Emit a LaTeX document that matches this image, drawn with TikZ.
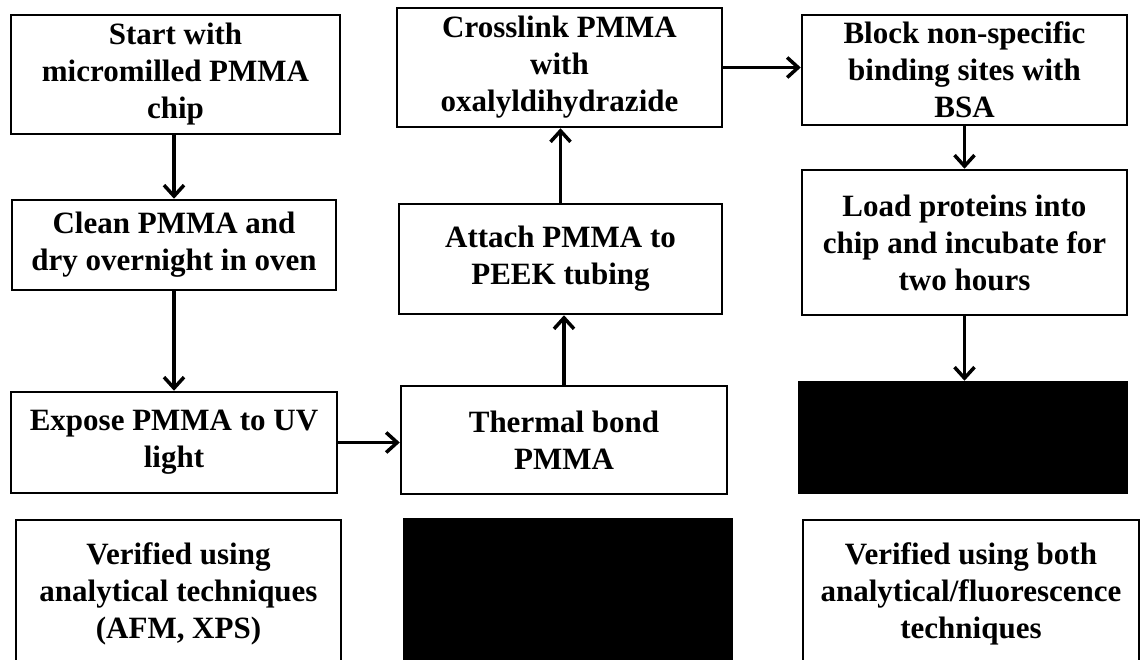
\documentclass[tikz,border=0pt]{standalone}
\usepackage{fontspec}
\setmainfont{Liberation Serif}
\usetikzlibrary{arrows.meta}
\begin{document}
\begin{tikzpicture}[x=1pt,y=-1pt,
  box/.style={draw=black,line width=2.5pt,align=center,inner sep=0pt,
    font=\fontsize{31}{37}\selectfont\bfseries},
  blackbox/.style={draw=black,fill=black,line width=2.5pt,inner sep=0pt},
  arr/.style={line width=3.5pt,-{Straight Barb[length=11pt,width=20pt,line width=3.5pt]}}]
\useasboundingbox (0,0) rectangle (1142,660);
\clip (0,0) rectangle (1142,660);
\node[box,minimum width=329pt,minimum height=119pt] (A) at (175.5,74.5) {Start with\\micromilled PMMA\\chip};
\node[box,minimum width=324pt,minimum height=90pt] (B) at (174,245) {Clean PMMA and\\dry overnight in oven};
\node[box,minimum width=326pt,minimum height=101pt] (C) at (174,442.5) {Expose PMMA to UV\\light};
\node[box,minimum width=326pt,minimum height=108pt] (D) at (564,440) {Thermal bond\\PMMA};
\node[box,minimum width=323pt,minimum height=110pt] (E) at (560.5,259) {Attach PMMA to\\PEEK tubing};
\node[box,minimum width=325pt,minimum height=119pt] (F) at (559.5,67.5) {Crosslink PMMA\\with\\oxalyldihydrazide};
\node[box,minimum width=325pt,minimum height=110pt] (G) at (964.5,70) {Block non-specific\\binding sites with\\BSA};
\node[box,minimum width=325pt,minimum height=145pt] (H) at (964.5,242.5) {Load proteins into\\chip and incubate for\\two hours};
\node[blackbox,minimum width=328pt,minimum height=111pt] (I) at (963,437.5) {};
\node[box,minimum width=325pt,minimum height=148pt] (J) at (178.5,594) {Verified using\\analytical techniques\\(AFM, XPS)};
\node[blackbox,minimum width=328pt,minimum height=149pt] (K) at (568,593.5) {};
\node[box,minimum width=336pt,minimum height=148pt] (L) at (971,594) {Verified using both\\analytical/fluorescence\\techniques};
\draw[arr] (A.south -| B.north) -- (B.north);
\draw[arr] (B.south) -- (B.south |- C.north);
\draw[arr] (C.east) -- (C.east -| D.west);
\draw[arr] (D.north) -- (D.north |- E.south);
\draw[arr] (E.north) -- (E.north |- F.south);
\draw[arr] (F.east) -- (F.east -| G.west);
\draw[arr] (G.south) -- (G.south |- H.north);
\draw[arr] (H.south) -- (H.south |- I.north);
\end{tikzpicture}
\end{document}
